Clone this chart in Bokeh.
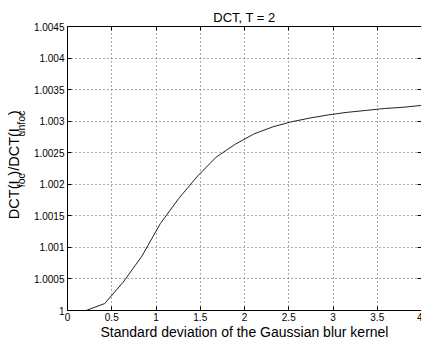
import math
from bokeh.plotting import figure
from bokeh.layouts import row
from bokeh.models import (LinearAxis, FixedTicker, CustomJSTickFormatter, Range1d, Grid, ColumnDataSource)
from bokeh.embed import file_html
from bokeh.resources import INLINE

# data
sigma = [0.21, 0.42, 0.63, 0.84, 1.05, 1.26, 1.47, 1.68, 1.89, 2.11,
         2.32, 2.53, 2.74, 2.95, 3.16, 3.37, 3.58, 3.79, 4.0]
ratio = [1.00000, 1.00011, 1.00045, 1.00086, 1.00138, 1.00178, 1.00213, 1.00243,
         1.00263, 1.00280, 1.00291, 1.00299, 1.00305, 1.00310, 1.00314, 1.00317,
         1.00320, 1.00322, 1.00325]
x_ticks = [0, 0.5, 1, 1.5, 2, 2.5, 3, 3.5, 4]
y_ticks = [1, 1.0005, 1.001, 1.0015, 1.002, 1.0025, 1.003, 1.0035, 1.004, 1.0045]
title_text = "DCT, T = 2"
x_label = "Standard deviation of the Gaussian blur kernel"
y_label_parts = ["DCT(I", "foc", ")/DCT(I", "unfoc", ")"]
y_label_is_sub = [False, True, False, True, False]

FONT = "Liberation Sans"
LW = 30          # width of the strip holding the y label
H = 344

# ---- main plot ----
p = figure(frame_width=354, frame_height=284, output_backend="svg", toolbar_location=None,
           x_range=Range1d(0, 4), y_range=Range1d(1, 1.0045),
           min_border_left=66 - LW, min_border_right=1, min_border_top=26, min_border_bottom=34,
           x_axis_type=None, y_axis_type=None)
p.background_fill_color = "white"
p.border_fill_color = "white"
p.outline_line_color = "black"
p.outline_line_width = 1

p.title.text = title_text
p.title.align = "center"
p.title.text_font = FONT
p.title.text_font_size = "13px"
p.title.text_font_style = "normal"
p.title.text_color = "black"
p.title.standoff = 4

fmt = CustomJSTickFormatter(code="return String(Number(tick.toFixed(5)));")

def style(ax, labels=True):
    ax.major_tick_in = 4
    ax.major_tick_out = 0
    ax.minor_tick_line_color = None
    ax.axis_line_color = "black"
    ax.major_tick_line_color = "black"
    ax.major_label_text_font = FONT
    ax.major_label_text_font_size = "10px"
    ax.major_label_text_color = "black" if labels else None
    ax.major_label_standoff = 3 if labels else 0
    ax.axis_label_text_font = FONT
    ax.axis_label_text_font_style = "normal"
    ax.axis_label_text_font_size = "14px"
    ax.axis_label_text_color = "black"

xb = LinearAxis(ticker=FixedTicker(ticks=x_ticks), formatter=fmt, axis_label=x_label)
style(xb)
xb.major_label_standoff = 2
xb.axis_label_standoff = 0
p.add_layout(xb, "below")
xa = LinearAxis(ticker=FixedTicker(ticks=x_ticks), formatter=fmt)
style(xa, labels=False)
p.add_layout(xa, "above")
yl = LinearAxis(ticker=FixedTicker(ticks=y_ticks), formatter=fmt)
style(yl)
p.add_layout(yl, "left")
yr = LinearAxis(ticker=FixedTicker(ticks=y_ticks), formatter=fmt)
style(yr, labels=False)
p.add_layout(yr, "right")

gx = Grid(dimension=0, ticker=FixedTicker(ticks=x_ticks[1:-1]))
gy = Grid(dimension=1, ticker=FixedTicker(ticks=y_ticks[1:-1]))
for g in (gx, gy):
    g.grid_line_color = "#555555"
    g.grid_line_dash = "1 3"
    g.grid_line_width = 1
    p.add_layout(g, "center")

p.line(sigma, ratio, line_color="#222222", line_width=1)

# ---- strip with rotated y label (pixel-coordinate ranges) ----
q = figure(width=LW, height=H, output_backend="svg", toolbar_location=None,
           x_range=Range1d(0, LW), y_range=Range1d(0, H),
           min_border=0, x_axis_type=None, y_axis_type=None)
q.outline_line_color = None
q.xgrid.visible = False
q.ygrid.visible = False
q.background_fill_color = "white"
q.border_fill_color = "white"

widths = {"D": .722, "C": .722, "T": .611, "(": .333, ")": .333, "/": .278, "I": .278,
          "f": .278, "o": .556, "c": .5, "u": .556, "n": .556}
main_fs, sub_fs = 14.5, 10.5
lens = [sum(widths[ch] for ch in t) * (sub_fs if s else main_fs)
        for t, s in zip(y_label_parts, y_label_is_sub)]
total = sum(lens)
center_y = H - 168
xs, ys, sizes = [], [], []
yy = center_y - total / 2
for t, s, ln in zip(y_label_parts, y_label_is_sub, lens):
    xs.append(20.5 if s else 13.0)
    ys.append(yy)
    sizes.append(f"{sub_fs if s else main_fs}px")
    yy += ln
src = ColumnDataSource(dict(x=xs, y=ys, text=y_label_parts, size=sizes))
q.text(x="x", y="y", text="text", source=src, angle=math.pi / 2,
       text_font_size="size", text_color="black", text_align="left",
       text_baseline="alphabetic", text_font={"value": FONT})

layout = row(q, p, spacing=0)
open("out.html", "w").write(file_html(layout, INLINE))
